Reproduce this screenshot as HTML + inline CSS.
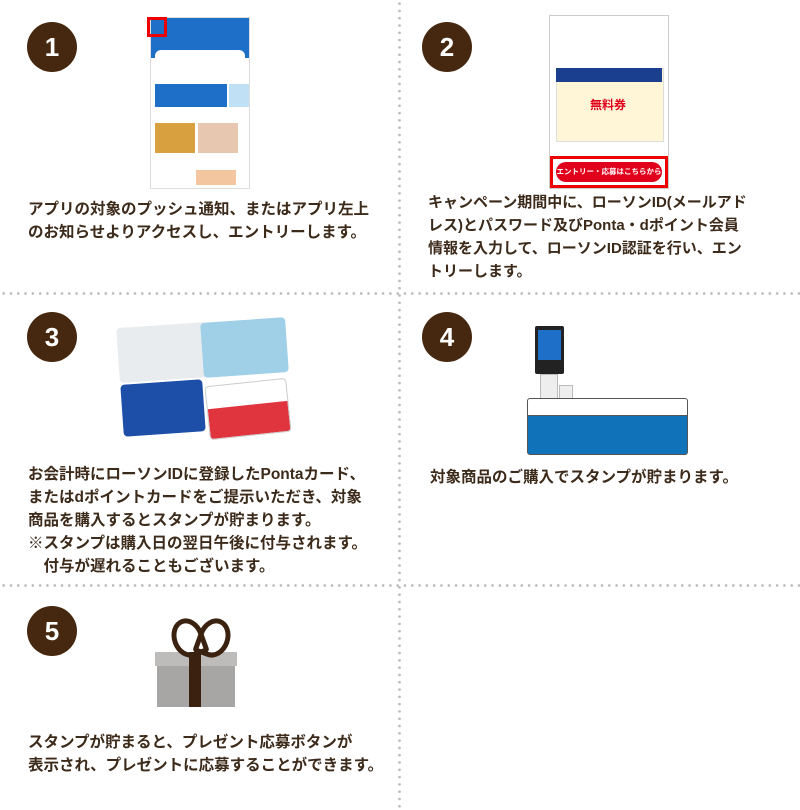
<!DOCTYPE html>
<html><head><meta charset="utf-8"><style>
body{margin:0;width:800px;height:810px;background:#fff;position:relative;overflow:hidden;font-family:"Liberation Sans","Noto Sans CJK JP",sans-serif}
.c{position:absolute;width:50px;height:50px;border-radius:50%;background:#45280f;color:#fff;font-weight:bold;font-size:26px;line-height:50px;text-align:center}
.t{position:absolute;color:#3c2a1a;font-weight:bold;font-size:15.5px;line-height:23px;white-space:nowrap}
.vl{position:absolute;left:398px;top:0;width:3px;height:810px;background:radial-gradient(circle,#bbb 1.2px,transparent 1.5px) 0 0/3px 7.3px}
.hl{position:absolute;left:0;width:800px;height:3px;background:radial-gradient(circle,#bbb 1.2px,transparent 1.5px) 0 0/7.3px 3px}
.a{position:absolute}
</style></head><body>
<div class="vl"></div>
<div class="hl" style="top:292px"></div>
<div class="hl" style="top:584px"></div>

<div class="c" style="left:27px;top:22px">1</div>
<div class="c" style="left:422px;top:22px">2</div>
<div class="c" style="left:27px;top:312px">3</div>
<div class="c" style="left:422px;top:312px">4</div>
<div class="c" style="left:27px;top:606px">5</div>

<!-- phone 1 -->
<div class="a" style="left:150px;top:17px;width:98px;height:170px;background:#fff;border:1px solid #ddd">
 <div style="height:40px;background:#1e6fc8"></div>
 <div style="position:absolute;left:4px;top:32px;width:90px;height:24px;background:#fff;border-radius:6px"></div>
 <div style="position:absolute;left:4px;top:66px;width:72px;height:23px;background:#1e6fc8"></div>
 <div style="position:absolute;left:78px;top:66px;width:20px;height:23px;background:#bfe0f5"></div>
 <div style="position:absolute;left:4px;top:105px;width:40px;height:30px;background:#d9a040"></div>
 <div style="position:absolute;left:47px;top:105px;width:40px;height:30px;background:#e8c7b0"></div>
 <div style="position:absolute;left:45px;top:152px;width:40px;height:15px;background:#f3c6a0"></div>
</div>
<div class="a" style="left:147px;top:17px;width:20px;height:20px;border:3px solid #e00;box-sizing:border-box"></div>

<!-- phone 2 -->
<div class="a" style="left:549px;top:15px;width:118px;height:172px;background:#fff;border:1px solid #ccc">
 <div style="position:absolute;left:6px;top:52px;width:106px;height:72px;background:#fff6d8;border:1px solid #ddd"></div>
 <div style="position:absolute;left:6px;top:52px;width:106px;height:14px;background:#1b3f8f"></div>
 <div style="position:absolute;left:40px;top:80px;font-size:12px;color:#e0001b;font-weight:bold">無料券</div>
 <div style="position:absolute;left:0;top:140px;width:118px;height:32px;border:3px solid #e00;box-sizing:border-box"></div>
 <div style="position:absolute;left:6px;top:146px;width:106px;height:20px;background:#e0001b;border-radius:10px;color:#fff;font-size:7.5px;font-weight:bold;line-height:20px;text-align:center;white-space:nowrap;overflow:hidden">エントリー・応募はこちらから</div>
</div>

<!-- cards -->
<div class="a" style="left:118px;top:325px;width:90px;height:55px;background:#e8ecef;border-radius:4px;transform:rotate(-4deg)"></div>
<div class="a" style="left:202px;top:320px;width:85px;height:55px;background:#9fd0e8;border-radius:4px;transform:rotate(-4deg)"></div>
<div class="a" style="left:122px;top:382px;width:82px;height:52px;background:#1e4fa8;border-radius:4px;transform:rotate(-4deg)"></div>
<div class="a" style="left:207px;top:382px;width:80px;height:52px;background:#fff;border:1px solid #ccc;border-radius:4px;transform:rotate(-6deg);overflow:hidden"><div style="margin-top:22px;height:30px;background:#e0343f"></div></div>

<!-- kiosk -->
<div class="a" style="left:535px;top:326px;width:29px;height:48px;background:#222;border-radius:2px"><div style="margin:4px 3px;height:30px;background:#1e6fc8"></div></div>
<div class="a" style="left:540px;top:374px;width:16px;height:24px;background:#eee;border:1px solid #bbb"></div>
<div class="a" style="left:559px;top:385px;width:12px;height:12px;background:#eee;border:1px solid #bbb"></div>
<div class="a" style="left:527px;top:398px;width:159px;height:55px;border:1.5px solid #555;border-radius:3px;background:#1072b8;overflow:hidden"><div style="height:16px;background:#fff;border-bottom:1px solid #555"></div></div>

<!-- gift -->
<div class="a" style="left:157px;top:652px;width:78px;height:55px;background:#a7a6a4"></div>
<div class="a" style="left:155px;top:652px;width:82px;height:14px;background:#bdbcba"></div>
<div class="a" style="left:189px;top:652px;width:12px;height:55px;background:#3b2210"></div>
<div class="a" style="left:172px;top:618px;width:22px;height:30px;border:5px solid #3b2210;border-radius:50% 50% 10% 50%;transform:rotate(-20deg)"></div>
<div class="a" style="left:198px;top:618px;width:22px;height:30px;border:5px solid #3b2210;border-radius:50% 50% 50% 10%;transform:rotate(20deg)"></div>

<div class="t" style="left:28px;top:198px">アプリの対象のプッシュ通知、またはアプリ左上<br>のお知らせよりアクセスし、エントリーします。</div>
<div class="t" style="left:428px;top:191px;font-size:15px">キャンペーン期間中に、ローソンID(メールアド<br>レス)とパスワード及びPonta・dポイント会員<br>情報を入力して、ローソンID認証を行い、エン<br>トリーします。</div>
<div class="t" style="left:28px;top:463px">お会計時にローソンIDに登録したPontaカード、<br>またはdポイントカードをご提示いただき、対象<br>商品を購入するとスタンプが貯まります。<br>※スタンプは購入日の翌日午後に付与されます。<br>　付与が遅れることもございます。</div>
<div class="t" style="left:430px;top:466px">対象商品のご購入でスタンプが貯まります。</div>
<div class="t" style="left:28px;top:731px">スタンプが貯まると、プレゼント応募ボタンが<br>表示され、プレゼントに応募することができます。</div>
</body></html>
